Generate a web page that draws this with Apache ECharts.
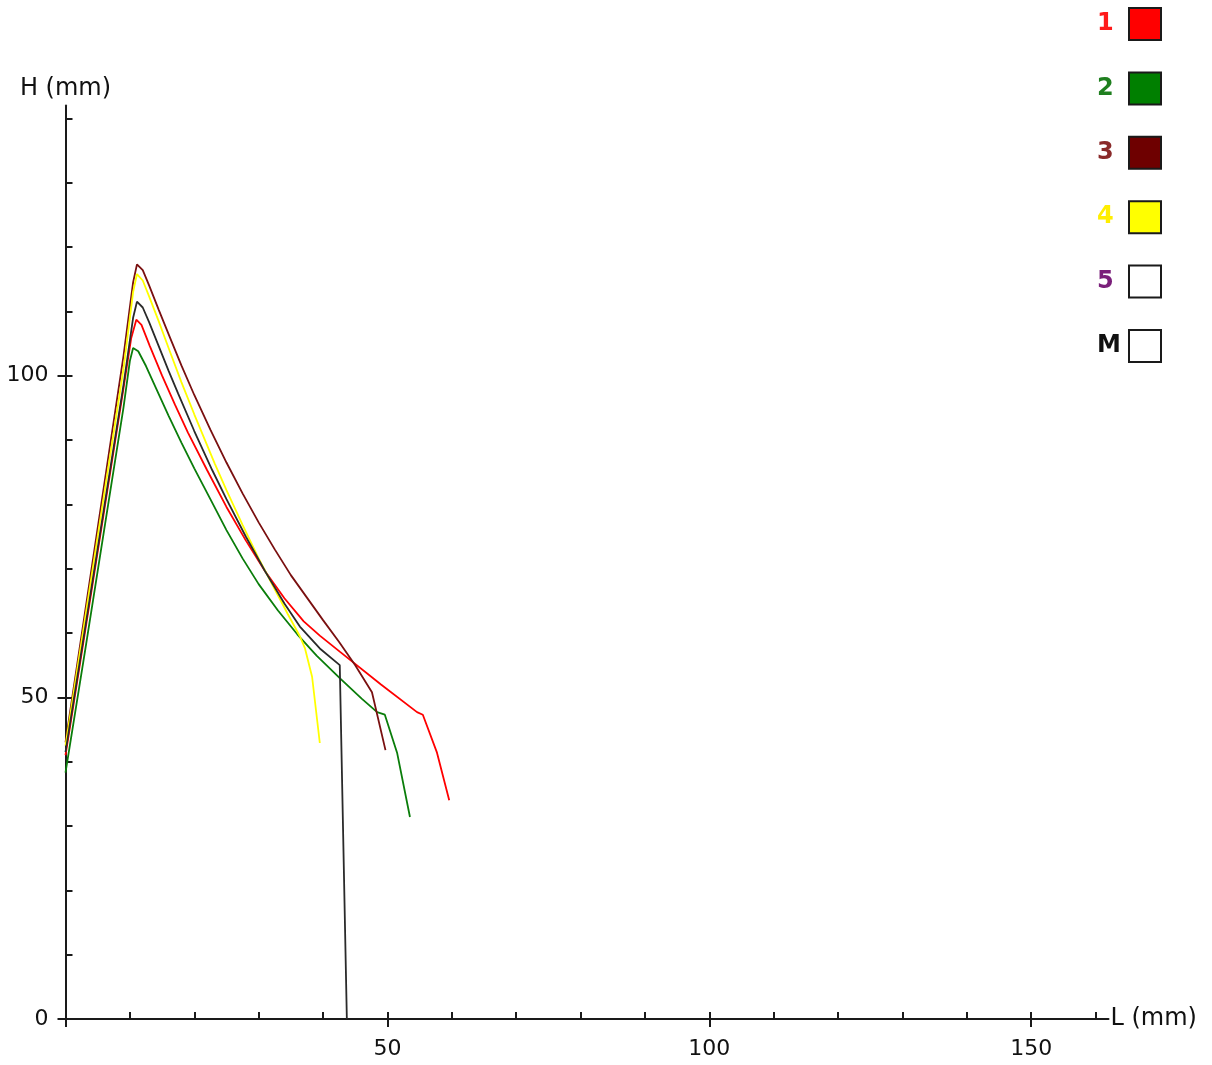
<!DOCTYPE html>
<html>
<head>
<meta charset="utf-8">
<title>H / L</title>
<script src="https://cdn.jsdelivr.net/npm/echarts@6/dist/echarts.min.js"></script>
<style>
  html, body { margin: 0; padding: 0; background: #fff; }
  #chart { width: 1212px; height: 1065px; }
</style>
</head>
<body>
<div id="chart"></div>
<script>
// Profiles: length L (mm) against height H (mm)
const s1L = [0, 3, 6, 9, 10.2, 11.0, 11.8, 13.1, 15, 17, 19, 22, 25, 28, 31, 34, 37, 39.5, 42.6, 49, 54.6, 55.5, 57.7, 59.6];
const s1H = [41.0, 60.0, 79.0, 98.0, 105.8, 108.7, 107.9, 104.6, 100.0, 95.5, 91.2, 85.3, 79.6, 74.4, 69.6, 65.4, 61.8, 59.6, 57.1, 52.0, 47.7, 47.3, 41.4, 34.0];

const s2L = [0, 3, 6, 9, 10.0, 10.5, 11.3, 12.5, 14, 16, 18, 20, 22.5, 25, 27.5, 30, 33, 36, 39, 42.6, 46, 48.4, 49.6, 51.5, 53.5];
const s2H = [38.3, 57.0, 76.0, 95.0, 102.3, 104.3, 103.8, 101.5, 98.2, 93.8, 89.6, 85.6, 80.8, 76.0, 71.6, 67.6, 63.5, 59.8, 56.5, 53.0, 49.8, 47.7, 47.3, 41.4, 31.4];

const s3L = [0, 3, 6, 9, 10.5, 11.1, 12, 13, 14.5, 16.2, 18, 20, 22.5, 25, 27.5, 30, 32.5, 35, 37.5, 40, 42.5, 45, 47.6, 49.7];
const s3H = [43.0, 63.0, 83.0, 103.0, 114.5, 117.3, 116.4, 114.0, 110.2, 106.0, 101.6, 97.0, 91.6, 86.5, 81.7, 77.2, 73.0, 69.0, 65.5, 62.0, 58.6, 55.0, 50.8, 41.8];

const s4L = [0, 3, 6, 9, 10.5, 11.1, 12, 13, 14.5, 16.2, 18, 20, 23.2, 25, 27.5, 30, 32.5, 34.5, 36.4, 37.2, 38.3, 39.5];
const s4H = [42.5, 62.0, 81.5, 101.0, 113.0, 115.8, 114.8, 112.3, 108.4, 103.8, 99.0, 94.0, 86.3, 82.2, 76.8, 71.6, 66.8, 63.0, 59.5, 57.6, 53.2, 42.9];

const s5L = [];
const s5H = [];

const sML = [0, 3, 6, 9, 10.5, 11.1, 12, 13, 14.4, 16, 17.5, 20, 22.8, 25, 28, 31, 34, 36.4, 39.5, 42.6, 43.7];
const sMH = [41.5, 60.5, 79.5, 98.5, 109.0, 111.5, 110.6, 108.3, 104.8, 100.8, 97.2, 91.4, 85.3, 80.8, 75.0, 69.6, 64.6, 61.0, 57.6, 55.0, 0];

// Axis ticks and labels
const xMinorTicks = [10, 20, 30, 40, 50, 60, 70, 80, 90, 100, 110, 120, 130, 140, 150, 160];
const xMajorTicks = [0, 50, 100, 150];
const xLabels = [50, 100, 150];
const yMinorTicks = [10, 20, 30, 40, 50, 60, 70, 80, 90, 100, 110, 120, 130, 140];
const yMajorTicks = [0, 50, 100];
const yLabels = [0, 50, 100];

const seriesNames = ['1', '2', '3', '4', '5', 'M'];
const lineColors = ['#ff0000', '#0a7d0a', '#7a1010', '#ffff00', '#800080', '#2a2a2a'];
const boxColors = ['#ff0000', '#007f00', '#6e0000', '#ffff00', '#ffffff', '#ffffff'];
const nameColors = ['#ff1a1a', '#1f7f1f', '#8a2a2a', '#ffee00', '#7a1f7a', '#111111'];

const allL = [s1L, s2L, s3L, s4L, s5L, sML];
const allH = [s1H, s2H, s3H, s4H, s5H, sMH];

const FONT = 'DejaVu Sans';
const AXIS_COLOR = '#1a1a1a';

function pairs(L, H) {
  return L.map((v, i) => [v, H[i]]);
}

const grid = { left: 65.5, top: 105.5, width: 1043, height: 913.5, outerBoundsMode: 'none' };

const chart = echarts.init(document.getElementById('chart'), null, { renderer: 'canvas' });

chart.setOption({
  animation: false,
  backgroundColor: '#ffffff',
  grid: [Object.assign({}, grid), Object.assign({}, grid)],
  xAxis: [
    {
      gridIndex: 0, type: 'value', min: 0, max: 162,
      name: 'L (mm)', nameLocation: 'end', nameGap: 2,
      nameTextStyle: { fontFamily: FONT, fontSize: 24, color: '#111' },
      axisLine: { show: true, onZero: false, lineStyle: { color: AXIS_COLOR, width: 2 } },
      axisTick: { show: true, inside: true, length: 7, customValues: xMinorTicks, lineStyle: { color: AXIS_COLOR, width: 2 } },
      axisLabel: { show: true, customValues: xLabels, margin: 19, fontFamily: FONT, fontSize: 22, color: '#111' },
      splitLine: { show: false }
    },
    {
      gridIndex: 1, type: 'value', min: 0, max: 162,
      axisLine: { show: false },
      axisTick: { show: true, inside: false, length: 8, customValues: xMajorTicks, lineStyle: { color: AXIS_COLOR, width: 2 } },
      axisLabel: { show: false },
      splitLine: { show: false }
    }
  ],
  yAxis: [
    {
      gridIndex: 0, type: 'value', min: 0, max: 142,
      name: 'H (mm)', nameLocation: 'end', nameGap: 5,
      nameTextStyle: { fontFamily: FONT, fontSize: 24, color: '#111' },
      axisLine: { show: true, onZero: false, lineStyle: { color: AXIS_COLOR, width: 2 } },
      axisTick: { show: true, inside: true, length: 7, customValues: yMinorTicks, lineStyle: { color: AXIS_COLOR, width: 2 } },
      axisLabel: { show: true, customValues: yLabels, margin: 17, fontFamily: FONT, fontSize: 22, color: '#111' },
      splitLine: { show: false }
    },
    {
      gridIndex: 1, type: 'value', min: 0, max: 142,
      axisLine: { show: false },
      axisTick: { show: true, inside: false, length: 8, customValues: yMajorTicks, lineStyle: { color: AXIS_COLOR, width: 2 } },
      axisLabel: { show: false },
      splitLine: { show: false }
    }
  ],
  legend: {
    orient: 'vertical',
    right: 50,
    top: 7,
    padding: 0,
    align: 'right',
    icon: 'rect',
    itemWidth: 32,
    itemHeight: 32,
    itemGap: 30.4,
    selectedMode: false,
    formatter: '{t|{name}}',
    textStyle: {
      fontFamily: FONT, fontSize: 24, fontWeight: 'bold',
      rich: { t: { width: 27, align: 'left', fontFamily: FONT, fontSize: 24, fontWeight: 'bold' } }
    },
    data: seriesNames.map((n, i) => ({
      name: n,
      itemStyle: { color: boxColors[i], borderColor: '#1a1a1a', borderWidth: 2 },
      textStyle: { color: nameColors[i] }
    }))
  },
  series: seriesNames.map((n, i) => ({
    name: n,
    type: 'line',
    xAxisIndex: 0,
    yAxisIndex: 0,
    data: pairs(allL[i], allH[i]),
    showSymbol: false,
    symbol: 'none',
    smooth: false,
    itemStyle: { color: lineColors[i] },
    lineStyle: { color: lineColors[i], width: 1.8 },
    emphasis: { disabled: true },
    z: i === 5 ? 3 : 2
  }))
});
</script>
</body>
</html>
